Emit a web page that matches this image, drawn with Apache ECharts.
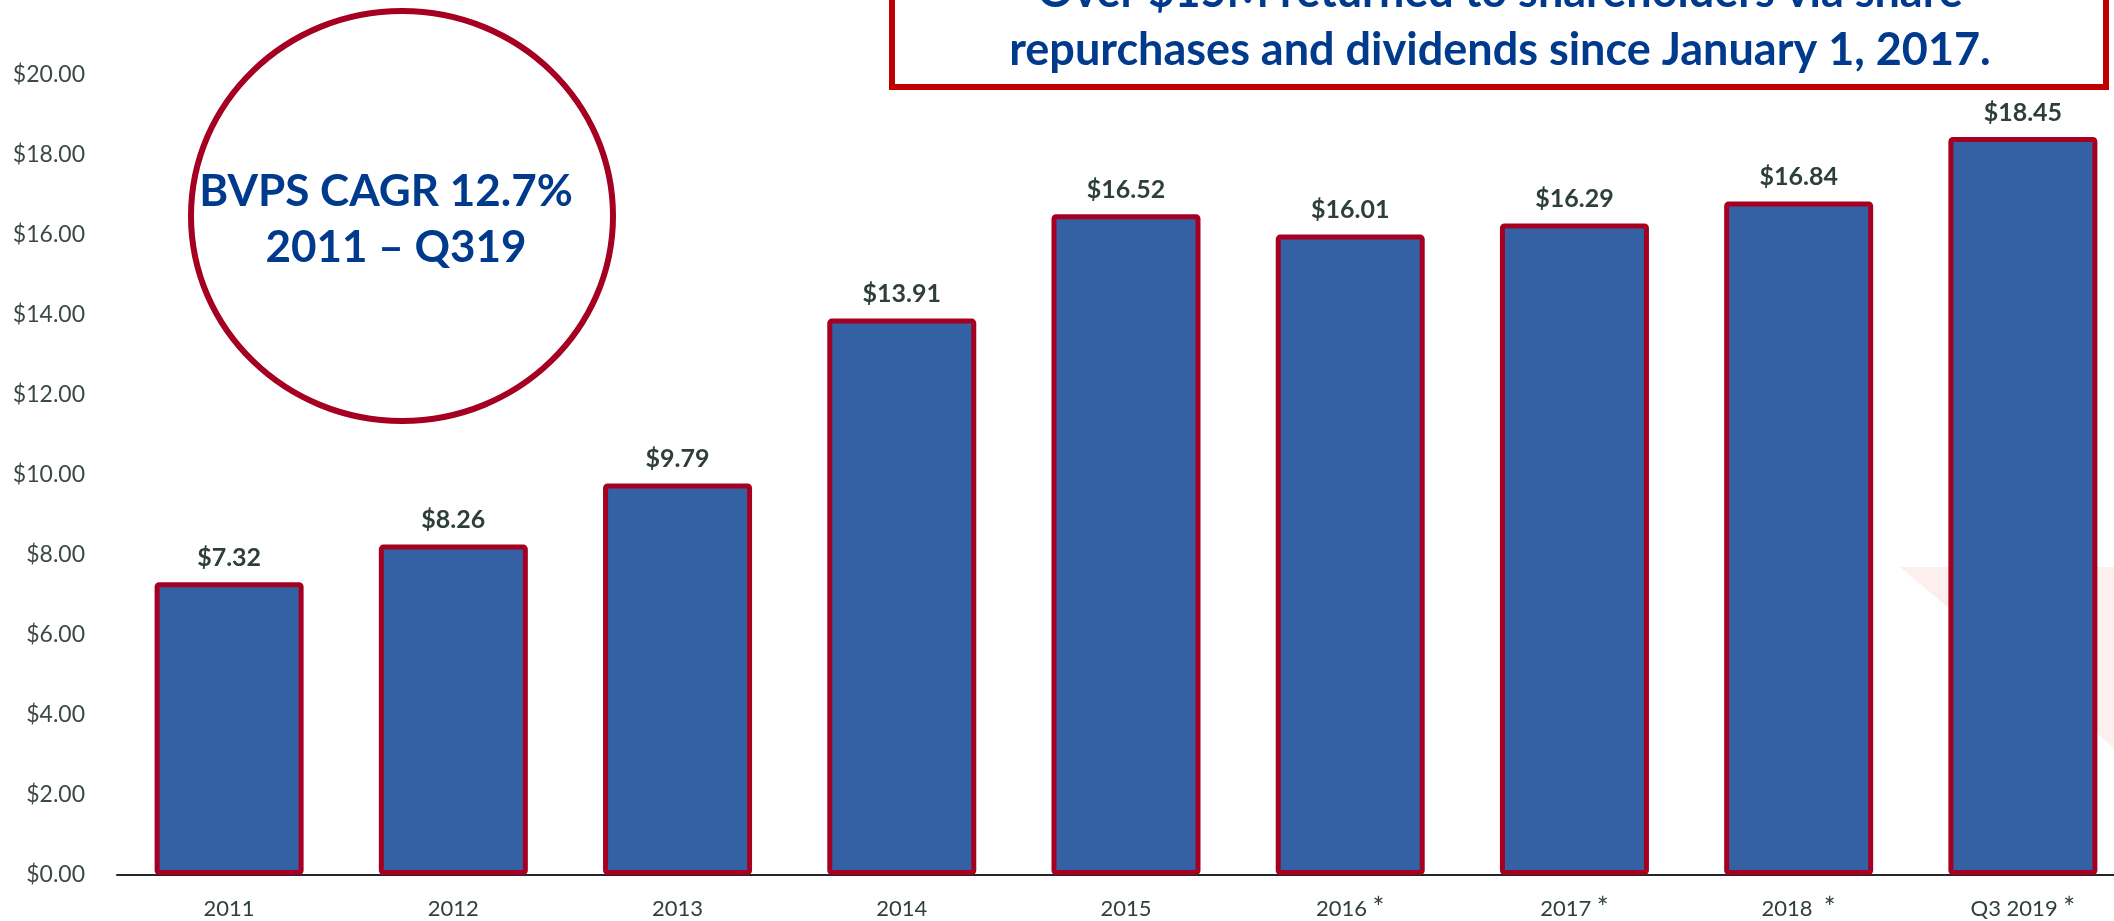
<!DOCTYPE html>
<html>
<head>
<meta charset="utf-8">
<script src="https://cdn.jsdelivr.net/npm/echarts@6/dist/echarts.min.js"></script>
<style>
  html, body { margin: 0; padding: 0; background: #fff; }
  #chart { width: 2114px; height: 921px; }
</style>
</head>
<body>
<div id="chart"></div>
<script>
// book value per share by period
const periods = ["2011", "2012", "2013", "2014", "2015", "2016 *", "2017 *", "2018  *", "Q3 2019 *"];
const bvps = [7.32, 8.26, 9.79, 13.91, 16.52, 16.01, 16.29, 16.84, 18.45];

const calloutLines = ["Over $15M returned to shareholders via share", "repurchases and dividends since January 1, 2017."];
const circleLines = ["BVPS CAGR 12.7%", "2011 \u2013 Q319"];

const font = "Lato, 'Open Sans', sans-serif";
const blueText = "#003a8c";
const red = "#a50021";

const chart = echarts.init(document.getElementById("chart"));

chart.setOption({
  animation: false,
  grid: { left: 117, top: 75, width: 2018, height: 800, outerBoundsMode: "none", containLabel: false },
  xAxis: {
    type: "category",
    data: periods,
    axisLine: { lineStyle: { color: "#262626", width: 2 } },
    axisTick: { show: false },
    axisLabel: {
      color: "#2f403b", fontSize: 22, fontFamily: font, margin: 21, lineHeight: 26,
      // the footnote star is drawn a bit bigger, as in the slide
      formatter: v => v.replace("*", "{s|*}"),
      rich: { s: { fontSize: 28, lineHeight: 26, fontFamily: font, color: "#2f403b" } }
    }
  },
  yAxis: {
    type: "value",
    min: 0,
    max: 20,
    interval: 2,
    splitLine: { show: false },
    axisLine: { show: false },
    axisLabel: {
      color: "#3b4a47",
      fontSize: 23,
      fontFamily: font,
      margin: 32,
      formatter: v => "$" + v.toFixed(2)
    }
  },
  series: [{
    type: "bar",
    data: bvps,
    barWidth: 149,
    z: 3,
    itemStyle: { color: "#3461a3", borderColor: red, borderWidth: 5, borderRadius: 2 },
    label: {
      show: true,
      position: "top",
      distance: 12,
      color: "#2e3f3a",
      fontSize: 25,
      fontWeight: "bold",
      fontFamily: font,
      formatter: p => "$" + p.value.toFixed(2)
    }
  }],
  graphic: [
    // faint logo watermark bottom right
    {
      type: "polygon", z: 0, silent: true,
      shape: { points: [[1900, 567], [2114, 567], [2114, 748]] },
      style: { fill: "rgba(235,120,110,0.12)" }
    },
    // callout box
    {
      type: "rect", z: 10,
      shape: { x: 892, y: -30, width: 1214, height: 117 },
      style: { fill: "#fff", stroke: "#c00000", lineWidth: 6 }
    },
    {
      type: "text", z: 11,
      style: { text: calloutLines[0], x: 1500, y: -8, align: "center", verticalAlign: "middle",
        font: "bold 45px " + font, fill: blueText }
    },
    {
      type: "text", z: 11,
      style: { text: calloutLines[1], x: 1500, y: 50, align: "center", verticalAlign: "middle",
        font: "bold 45px " + font, fill: blueText }
    },
    // CAGR circle
    {
      type: "ellipse", z: 10,
      shape: { cx: 402, cy: 216, rx: 211, ry: 205 },
      style: { fill: "#fff", stroke: red, lineWidth: 6 }
    },
    {
      type: "text", z: 11,
      style: { text: circleLines[0], x: 386, y: 192, align: "center", verticalAlign: "middle",
        font: "bold 44px " + font, fill: blueText }
    },
    {
      type: "text", z: 11,
      style: { text: circleLines[1], x: 396, y: 248, align: "center", verticalAlign: "middle",
        font: "bold 44px " + font, fill: blueText }
    }
  ]
});
</script>
</body>
</html>
